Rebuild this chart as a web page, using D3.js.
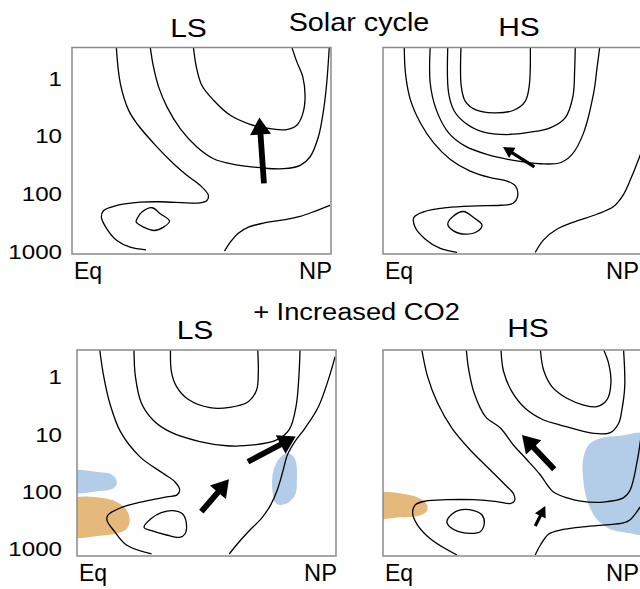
<!DOCTYPE html>
<html><head><meta charset="utf-8">
<script src="https://cdn.jsdelivr.net/npm/d3@7"></script>
<style>html,body{margin:0;padding:0;background:#fff;overflow:hidden}</style>
</head><body>
<svg id="chart" width="640" height="589"></svg>
<script>
// ---------------- DATA (latitude in degrees N, pressure in hPa) ----------------
const rowTitles = ["Solar cycle", "+ Increased CO2"];
const panelTitles = ["LS", "HS", "LS", "HS"];
const pressureTicks = [1, 10, 100, 1000];
const latLabels = ["Eq", "NP"];
const latExtent = [0, 90];

// Solar cycle, low solar (LS)
const lsContours = [
  [[15.4,0.3],[16.8,1.27],[19.7,3.7],[22.6,6.3],[29.5,15.8],[35.3,31],[39.9,49],[44.5,73],[47.4,109],[46.9,134],[44.5,147],[30.7,141],[23.7,143],[15.6,163],[11.0,200],[10.2,260],[12.1,414],[15.6,661],[20.2,861],[25.7,955]],
  [[27.2,0.3],[28.3,0.65],[30.1,1.45],[33.0,3.22],[37.6,7.65],[43.4,15.9],[49.2,25.4],[56.1,31.8],[65.4,36.3],[73.5,37.8],[79.3,33],[82.7,23.7],[85.6,10.7],[87.4,3.7],[88.5,1.27],[89.4,0.3]],
  [[42.2,0.3],[43.2,0.65],[45.1,1.36],[49.2,2.47],[55.0,4.5],[61.9,6.44],[68.8,7.65],[74.6,7.96],[78.1,6.7],[80.2,4.2],[81.0,2.16],[80.2,0.97],[78.1,0.53],[76.4,0.3]],
  [[53.0,1009],[55.0,705],[57.8,492],[61.3,387],[66.5,330],[73.5,289],[79.3,253],[85.0,200],[89.7,163]]
];
const lsLoops = [
  [[22.6,278],[24.3,213],[27.8,179],[30.7,228],[33.9,305],[31.8,387],[28.6,443],[24.9,387],[22.3,317]]
];
const lsArrows = [
  {from:[66.7,67.9], to:[65.1,4.93], strength:"strong"}
];

// Solar cycle, high solar (HS)
const hsContours = [
  [[7.4,0.3],[7.8,0.84],[9.5,2.41],[13.0,6.1],[17.6,13.5],[23.4,26.1],[30.3,41.5],[37.3,54],[43.1,61.7],[46.0,75],[46.8,112],[45.2,150],[40.8,162],[32.7,166],[22.2,178],[14.1,211],[10.7,265],[11.2,394],[14.7,625],[19.9,906],[25.7,1062]],
  [[16.4,0.3],[16.4,1.24],[18.5,3.59],[22.8,9.06],[28.6,15.4],[36.1,21.4],[45.4,27.2],[54.7,31],[61.6,29.8],[65.7,21.4],[69.7,9.06],[73.2,1.85],[74.3,0.73],[75.3,0.3]],
  [[22.5,0.3],[22.8,1.85],[24.8,3.83],[28.6,6.1],[35.0,8.83],[43.1,9.68],[51.2,8.83],[58.1,7.43],[63.3,4.99],[66.0,2.11],[66.6,0.73],[66.8,0.3]],
  [[27.1,0.3],[27.2,1.42],[28.6,2.58],[32.1,3.59],[38.4,4.09],[45.4,3.68],[49.4,2.58],[50.8,1.42],[51.2,0.3]],
  [[52.9,1062],[55.8,643],[60.4,421],[67.4,302],[74.3,232],[80.1,171],[83.6,105],[86.5,50.6],[88.8,26.1],[90.1,17.5]]
];
const hsLoops = [
  [[22.5,344],[24.5,248],[28.0,208],[31.5,265],[34.4,359],[32.7,461],[28.6,513],[24.5,449]]
];
const hsArrows = [
  {from:[52.6,35.2], to:[41.7,15.9], strength:"weak"}
];

// + increased CO2, LS
const lsCO2Contours = [
  [[7.9,0.35],[9.3,1.02],[11.4,2.97],[15.1,9.27],[21.8,25.2],[29.9,49.3],[34.0,68.9],[35.7,96],[34.8,117],[31.1,127],[23.0,153],[14.8,200],[10.8,262],[10.4,321],[13.1,512],[17.2,873],[25.9,1253]],
  [[19.8,0.35],[20.3,1.02],[22.4,2.97],[26.4,5.8],[32.2,9.27],[42.7,13.8],[52.0,16.3],[61.2,15.8],[69.4,12.9],[73.8,8.43],[76.1,3.4],[77.1,1.02],[77.5,0.35]],
  [[32.5,0.35],[32.8,0.83],[34.6,1.52],[38.6,2.53],[46.2,3.54],[53.1,3.49],[59.5,2.78],[62.4,1.74],[63.0,0.89],[62.8,0.35]],
  [[89.7,0.457],[87.3,1.17],[83.9,3.4],[79.2,8.1],[75.7,13.8],[73.1,23.6],[71.5,46.1],[69.6,96],[67.3,175],[64.1,300],[59.5,512],[55.4,873],[52.9,1253]]
];
const lsCO2Loops = [
  [[23.3,430],[25.9,300],[29.3,239],[33.4,220],[36.7,252],[38.0,366],[37.5,562],[35.7,643],[31.1,585],[25.9,492]]
];
const lsCO2Cooling = [
  [[-2,46.1],[7.9,47.3],[11.9,51.3],[13.7,64.4],[13.7,78.7],[11.9,93.5],[7.9,100],[-2,106],[-3,75]],
  [[72.8,22.1],[75.1,24.6],[76.2,33],[76.4,64.4],[76.0,110],[73.9,154],[70.4,175],[68.7,154],[67.9,96],[67.9,56.4],[68.7,37.8],[70.4,27]]
];
const lsCO2Warming = [
  [[-2,140],[10.2,136],[14.3,160],[17.2,214],[18.3,312],[17.4,448],[14.3,547],[7.9,601],[-2,615],[-3,300]]
];
const lsCO2Arrows = [
  {from:[43.2,230], to:[52.8,62.7], strength:"strong"},
  {from:[59.4,30.9], to:[76.0,11.3], strength:"strong"}
];

// + increased CO2, HS
const hsCO2Contours = [
  [[13.5,0.35],[15.5,1.02],[19.0,2.97],[24.0,8.1],[30.3,19.3],[37.3,43.1],[42.5,78.7],[45.4,113],[45.7,148],[44.2,166],[39.6,153],[31.5,142],[22.2,142],[14.7,150],[11.2,175],[10.3,245],[12.0,392],[17.0,715],[25.7,1303]],
  [[28.95,0.35],[29.8,0.78],[31.7,1.99],[35.6,5.07],[40.8,8.0],[45.3,15.8],[50.1,28.8],[54.7,52.7],[57.1,78.7],[59.2,104],[64.0,132],[68.6,150],[76.5,156],[83.5,132],[85.9,96],[88.4,28.8],[89.4,14],[90.1,6.6]],
  [[41.0,0.35],[41.9,0.83],[44.8,1.86],[49.4,3.63],[55.8,5.8],[61.6,7.1],[73.2,9.9],[79.0,9.6],[81.9,6.6],[83.0,3.88],[84.0,1.52],[83.6,0.35]],
  [[54.7,0.35],[55.8,0.78],[58.7,1.52],[63.9,2.43],[69.7,3.18],[74.3,3.4],[77.8,2.6],[79.2,1.33],[78.4,0.6],[76.7,0.35]],
  [[52.9,1303],[54.7,873],[57.6,562],[61.6,479],[68.6,425],[76.5,392],[83.5,361],[85.9,316],[89.4,190],[91,150]]
];
const hsCO2Loops = [
  [[22.2,343],[24.0,252],[26.9,214],[31.5,220],[34.4,262],[35.2,366],[33.8,512],[30.3,547],[26.3,512],[23.4,430]]
];
const hsCO2Cooling = [
  [[92,10.4],[82.4,10.9],[75.5,12.1],[71.4,15.8],[69.5,28.8],[69.5,56.4],[70.9,144],[74.3,312],[79.0,466],[84.8,532],[92,547],[94,80]]
];
const hsCO2Warming = [
  [[-2,113],[8.3,115],[12.7,134],[15.3,175],[15.1,230],[12.4,269],[6.0,288],[-2,292],[-3,200]]
];
const hsCO2Arrows = [
  {from:[59.5,42], to:[48.3,10.6], strength:"strong"},
  {from:[52.9,407], to:[56.4,183], strength:"weak"}
];

// ---------------- LAYOUT / STYLE ----------------
const FONT = "'Liberation Sans', Arial, Helvetica, sans-serif";
const COOL = "#b3cce8", WARM = "#e5b87b";
const ARROW = {strong:{w:2.9, hw:10.5, hl:17}, weak:{w:1.6, hw:6, hl:11}};

const panels = [
  {title:panelTitles[0], x0:72,  x1:331, y0:47.5, y1:254, pDom:[0.302,1130], contours:lsContours, loops:lsLoops, arrows:lsArrows, cool:[], warm:[], titleX:188.5, titleY:36.5, tick:true, latY:279},
  {title:panelTitles[1], x0:383, x1:642, y0:47.5, y1:254, pDom:[0.302,1130], contours:hsContours, loops:hsLoops, arrows:hsArrows, cool:[], warm:[], titleX:519, titleY:36, tick:false, latY:279},
  {title:panelTitles[2], x0:77,  x1:336, y0:350, y1:556, pDom:[0.35,1358], contours:lsCO2Contours, loops:lsCO2Loops, arrows:lsCO2Arrows, cool:lsCO2Cooling, warm:lsCO2Warming, titleX:195, titleY:338.5, tick:true, latY:581},
  {title:panelTitles[3], x0:383, x1:642, y0:350, y1:556, pDom:[0.35,1358], contours:hsCO2Contours, loops:hsCO2Loops, arrows:hsCO2Arrows, cool:hsCO2Cooling, warm:hsCO2Warming, titleX:528, titleY:337, tick:false, latY:581}
];

const svg = d3.select("#chart");
const defs = svg.append("defs");

function label(x, y, text, size, sx, anchor) {
  svg.append("text")
    .attr("transform", `translate(${x},${y}) scale(${sx},1)`)
    .attr("text-anchor", anchor)
    .attr("font-family", FONT)
    .attr("font-size", size)
    .attr("fill", "#000")
    .text(text);
}

function arrowPoly(x0, y0, x1, y1, s) {
  const dx = x1 - x0, dy = y1 - y0, L = Math.hypot(dx, dy);
  const ux = dx / L, uy = dy / L, px = -uy, py = ux;
  const nx = x1 - ux * s.hl, ny = y1 - uy * s.hl;
  return [[x0+px*s.w, y0+py*s.w],[nx+px*s.w, ny+py*s.w],[nx+px*s.hw, ny+py*s.hw],[x1,y1],
          [nx-px*s.hw, ny-py*s.hw],[nx-px*s.w, ny-py*s.w],[x0-px*s.w, y0-py*s.w]];
}

// row titles
label(359, 31, rowTitles[0], 25, 1.15, "middle");
label(356.5, 320, rowTitles[1], 23.5, 1.16, "middle");

panels.forEach((P, i) => {
  const x = d3.scaleLinear().domain(latExtent).range([P.x0, P.x1]);
  const y = d3.scaleLog().domain(P.pDom).range([P.y0, P.y1]);
  const line = d3.line().x(d => x(d[0])).y(d => y(d[1])).curve(d3.curveCatmullRom.alpha(0.5));
  const closed = d3.line().x(d => x(d[0])).y(d => y(d[1])).curve(d3.curveCatmullRomClosed.alpha(0.5));

  const cid = "clip" + i;
  defs.append("clipPath").attr("id", cid).append("rect")
    .attr("x", P.x0).attr("y", P.y0).attr("width", P.x1 - P.x0).attr("height", P.y1 - P.y0);
  const g = svg.append("g").attr("clip-path", `url(#${cid})`);

  g.selectAll("path.cool").data(P.cool).join("path").attr("class","cool")
    .attr("d", closed).attr("fill", COOL).attr("stroke", "none");
  g.selectAll("path.warm").data(P.warm).join("path").attr("class","warm")
    .attr("d", closed).attr("fill", WARM).attr("stroke", "none");

  g.selectAll("path.ct").data(P.contours).join("path").attr("class","ct")
    .attr("d", line).attr("fill", "none").attr("stroke", "#000").attr("stroke-width", 1.3);
  g.selectAll("path.lp").data(P.loops).join("path").attr("class","lp")
    .attr("d", closed).attr("fill", "none").attr("stroke", "#000").attr("stroke-width", 1.3);

  g.selectAll("path.ar").data(P.arrows).join("path").attr("class","ar")
    .attr("d", a => "M" + arrowPoly(x(a.from[0]), y(a.from[1]), x(a.to[0]), y(a.to[1]), ARROW[a.strength]).join("L") + "Z")
    .attr("fill", "#000");

  // frame
  svg.append("rect").attr("x", P.x0).attr("y", P.y0)
    .attr("width", P.x1 - P.x0).attr("height", P.y1 - P.y0)
    .attr("fill", "none").attr("stroke", "#8a8a8a").attr("stroke-width", 1.5);

  // pressure axis
  if (P.tick) {
    const ax = svg.append("g").attr("transform", "translate(62,0)")
      .call(d3.axisLeft(y).tickValues(pressureTicks).tickSize(0).tickPadding(0).tickFormat(d3.format("d")));
    ax.select(".domain").remove();
    ax.selectAll("text").attr("font-family", FONT).attr("font-size", 21).attr("fill", "#000")
      .attr("dy", "0.36em").attr("transform", "scale(1.15,1)");
  }

  // latitude end labels (kept inside the 640px page)
  label(x(latExtent[0]) + 2, P.latY, latLabels[0], 23, 1.0, "start");
  label(Math.min(x(latExtent[1]) + 1, 639), P.latY, latLabels[1], 23, 1.03, "end");

  // panel title
  label(P.titleX, P.titleY, P.title, 25, 1.2, "middle");
});
</script>
</body></html>
